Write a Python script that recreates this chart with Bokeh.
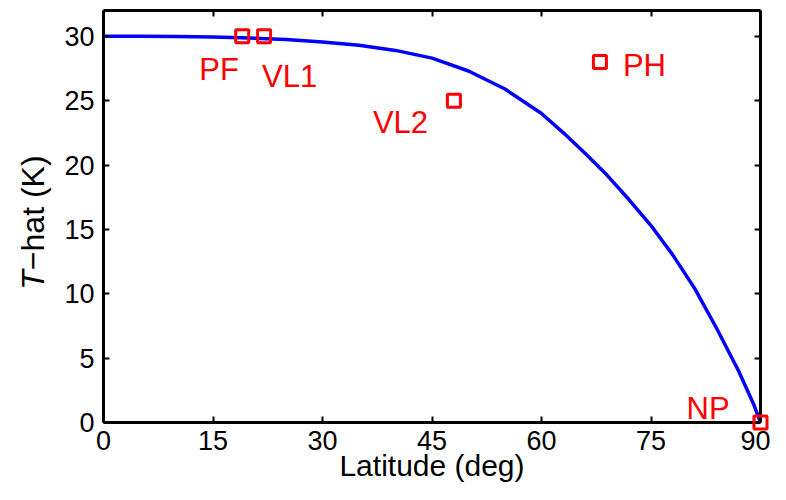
import math
from bokeh.plotting import figure
from bokeh.layouts import row
from bokeh.models import Range1d, LinearAxis, FixedTicker, ColumnDataSource
from bokeh.core.properties import value
from bokeh.embed import file_html
from bokeh.resources import INLINE

# ---- data ----
curve_lat = [0, 5, 10, 15, 20, 25, 30, 35, 40, 45, 50, 55, 60, 63, 66, 69, 72,
             75, 78, 81, 84, 87, 89, 90]
curve_T = [30.0, 30.0, 29.98, 29.94, 29.86, 29.74, 29.56, 29.3, 28.9, 28.3, 27.3,
           25.9, 24.0, 22.5, 20.9, 19.2, 17.3, 15.3, 13.0, 10.4, 7.3, 4.0, 1.5, 0.0]

site_names = ["PF", "VL1", "VL2", "PH", "NP"]
site_lat = [19, 22, 48, 68, 90]
site_T = [30, 30, 25, 28, 0]

x_ticks = [0, 15, 30, 45, 60, 75, 90]
y_ticks = [0, 5, 10, 15, 20, 25, 30]

x_label = "Latitude (deg)"
y_label_parts = ["T", "\u2212hat (K)"]

# ---- styles ----
FONT = "Liberation Sans"
label_dx = [-43, -2, -81, 23, -74]   # pixel offsets of site labels
label_dy = [33, 40, 22, 3, -14]
H = 484
LABEL_W = 52

p = figure(width=770 - LABEL_W, height=H, x_range=Range1d(0, 90),
           y_range=Range1d(0, 32),
           output_backend="svg", toolbar_location=None,
           min_border_left=103 - LABEL_W, min_border_right=10, min_border_top=10,
           min_border_bottom=0)
p.grid.visible = False
p.outline_line_color = None


def style_axis(ax, ticks, show_labels):
    ax.ticker = FixedTicker(ticks=ticks)
    ax.minor_tick_line_color = None
    ax.major_tick_in = 6
    ax.major_tick_out = 0
    ax.major_tick_line_width = 2
    ax.axis_line_width = 3
    ax.axis_line_color = "black"
    ax.major_tick_line_color = "black"
    ax.major_label_text_font = FONT
    ax.major_label_text_color = "black"
    if show_labels:
        ax.major_label_text_font_size = "27px"
    else:
        ax.major_label_overrides = {t: "" for t in ticks}
        ax.major_label_text_font_size = "1px"
        ax.major_label_standoff = 0


style_axis(p.xaxis[0], x_ticks, True)
style_axis(p.yaxis[0], y_ticks, True)
p.xaxis[0].major_label_standoff = 8
p.yaxis[0].major_label_standoff = 9
p.xaxis[0].axis_label = x_label
p.xaxis[0].axis_label_text_font = FONT
p.xaxis[0].axis_label_text_font_style = "normal"
p.xaxis[0].axis_label_text_font_size = "30px"
p.xaxis[0].axis_label_text_color = "black"
p.xaxis[0].axis_label_standoff = -4

top_ax = LinearAxis()
right_ax = LinearAxis()
style_axis(top_ax, x_ticks, False)
style_axis(right_ax, y_ticks, False)
p.add_layout(top_ax, "above")
p.add_layout(right_ax, "right")

# curve
p.line(curve_lat, curve_T, line_color="#0000ff", line_width=3.5)

# sites
src = ColumnDataSource(dict(x=site_lat, y=site_T, name=site_names,
                            dx=label_dx, dy=label_dy))
sq = p.scatter("x", "y", source=src, marker="square", size=13, fill_color=None,
               line_color="#ff0000", line_width=3)
sq.level = "overlay"
p.text("x", "y", text="name", source=src, x_offset="dx", y_offset="dy",
       text_font=value(FONT), text_font_size="31px", text_color="#ff0000",
       text_align="left", text_baseline="alphabetic")

# ---- narrow strip holding the y-axis title (italic T + upright rest) ----
lab = figure(width=LABEL_W, height=H, x_range=Range1d(0, LABEL_W),
             y_range=Range1d(0, H), output_backend="svg", toolbar_location=None,
             x_axis_location=None, y_axis_location=None, min_border=0)
lab.grid.visible = False
lab.outline_line_color = None
join_x = 32
join_y = H - 305
lab.text([join_x], [join_y], text=[y_label_parts[0]], angle=math.pi / 2,
         text_font=value(FONT), text_font_size="32px", text_font_style="italic",
         text_align="right", text_baseline="middle", text_color="black")
lab.text([join_x], [join_y], text=[y_label_parts[1]], angle=math.pi / 2,
         text_font=value(FONT), text_font_size="32px",
         text_align="left", text_baseline="middle", text_color="black")

layout = row(lab, p, spacing=0)
open("out.html", "w").write(file_html(layout, INLINE))
